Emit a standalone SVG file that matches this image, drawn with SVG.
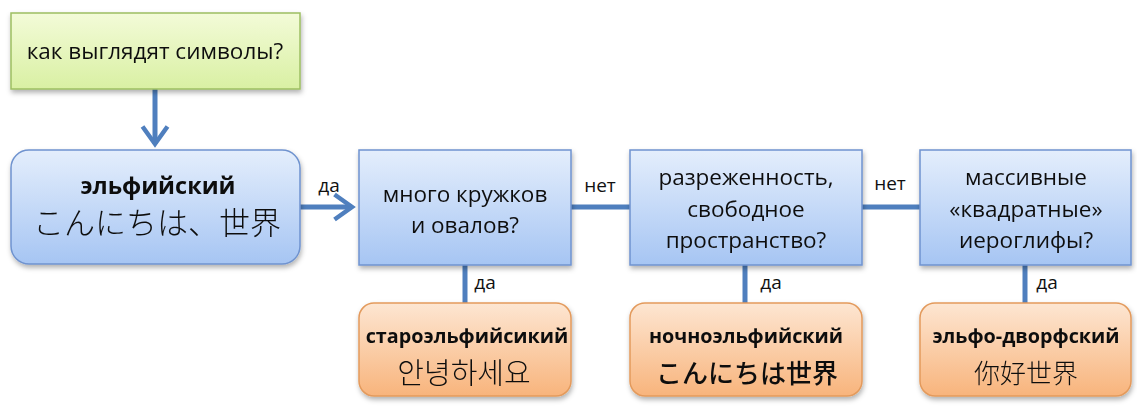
<svg xmlns="http://www.w3.org/2000/svg" width="1137" height="412" viewBox="0 0 1137 412">
<style>
.t{font-family:"Open Sans","Liberation Sans","Noto Sans CJK JP",sans-serif;fill:#111;text-anchor:middle}
.q{font-size:22.5px}
.lbl{font-size:19px}
.b{font-weight:bold;font-size:19.8px}
.cjk{font-family:"Noto Sans CJK JP","Noto Sans CJK KR","Noto Sans CJK SC",sans-serif;font-size:26px;fill:#111;text-anchor:middle}
.green{fill:url(#gG);stroke:#9dbf62;stroke-width:1.5}
.blue{fill:url(#gB);stroke:#6f93cf;stroke-width:1.5}
.orange{fill:url(#gO);stroke:#e39a5c;stroke-width:1.5}
.c{stroke:#4f7fbe;stroke-width:5;fill:none}
</style>
<defs>
<linearGradient id="gG" x1="0" y1="0" x2="0" y2="1"><stop offset="0" stop-color="#f3fbd8"/><stop offset="1" stop-color="#d9f0a3"/></linearGradient>
<linearGradient id="gB" x1="0" y1="0" x2="0" y2="1"><stop offset="0" stop-color="#e4eefc"/><stop offset="1" stop-color="#a6c5f3"/></linearGradient>
<linearGradient id="gO" x1="0" y1="0" x2="0" y2="1"><stop offset="0" stop-color="#fde6d2"/><stop offset="1" stop-color="#f8b47c"/></linearGradient>
<filter id="sh" x="-10%" y="-10%" width="120%" height="130%"><feDropShadow dx="1" dy="3" stdDeviation="2.5" flood-color="#000" flood-opacity="0.3"/></filter>
<marker id="ah" markerWidth="6" markerHeight="6" refX="4" refY="3" orient="auto" markerUnits="strokeWidth"><path d="M0.5,0.5 L4,3 L0.5,5.5" fill="none" stroke="#4f7fbe" stroke-width="0.9"/></marker>
</defs>
<g id="connectors">
<line class="c" x1="155" y1="89" x2="155" y2="144" marker-end="url(#ah)"/>
<line class="c" x1="300" y1="207" x2="352" y2="207" marker-end="url(#ah)"/>
<line class="c" x1="571" y1="207" x2="630" y2="207"/>
<line class="c" x1="862" y1="207" x2="920" y2="207"/>
<line class="c" x1="465" y1="265" x2="465" y2="303"/>
<line class="c" x1="745" y1="265" x2="745" y2="303"/>
<line class="c" x1="1025" y1="265" x2="1025" y2="303"/>
<text class="t lbl" x="329" y="192">да</text>
<text class="t lbl" x="600" y="192">нет</text>
<text class="t lbl" x="890" y="190">нет</text>
<text class="t lbl" x="485" y="289">да</text>
<text class="t lbl" x="771" y="289">да</text>
<text class="t lbl" x="1047" y="289">да</text>
</g>
<g id="start" filter="url(#sh)">
<rect class="green" x="11" y="13" width="289" height="76"/>
<text class="t q" x="155" y="59">как выглядят символы?</text>
</g>
<g id="elvish" filter="url(#sh)">
<rect class="blue" x="11" y="150" width="289" height="114" rx="18"/>
<text class="t b" x="158" y="194" style="font-size:23.5px">эльфийский</text>
<text class="cjk" x="157" y="234" style="font-size:31px;font-family:'Noto Sans CJK JP',serif;font-weight:300">こんにちは、世界</text>
</g>
<g id="q1" filter="url(#sh)">
<rect class="blue" x="359" y="150" width="212" height="115"/>
<text class="t q" x="465" y="202">много кружков</text>
<text class="t q" x="465" y="233">и овалов?</text>
</g>
<g id="q2" filter="url(#sh)">
<rect class="blue" x="630" y="150" width="232" height="115"/>
<text class="t q" x="746" y="185">разреженность,</text>
<text class="t q" x="746" y="217">свободное</text>
<text class="t q" x="746" y="248">пространство?</text>
</g>
<g id="q3" filter="url(#sh)">
<rect class="blue" x="920" y="150" width="211" height="115"/>
<text class="t q" x="1026" y="185">массивные</text>
<text class="t q" x="1026" y="217">«квадратные»</text>
<text class="t q" x="1026" y="248">иероглифы?</text>
</g>
<g id="old-elvish" filter="url(#sh)">
<rect class="orange" x="359" y="303" width="212" height="93" rx="15"/>
<text class="t b" x="467" y="343">староэльфийсикий</text>
<text class="cjk" x="464" y="384" style="font-family:'Noto Sans CJK KR',sans-serif;font-weight:300;font-size:29px">안녕하세요</text>
</g>
<g id="night-elvish" filter="url(#sh)">
<rect class="orange" x="630" y="303" width="232" height="93" rx="15"/>
<text class="t b" x="746" y="343">ночноэльфийский</text>
<text class="cjk" x="747" y="383" style="font-weight:500">こんにちは世界</text>
</g>
<g id="elf-dwarf" filter="url(#sh)">
<rect class="orange" x="920" y="303" width="211" height="93" rx="15"/>
<text class="t b" x="1026" y="343">эльфо-дворфский</text>
<text class="cjk" x="1026" y="383" style="font-family:'Noto Sans CJK SC',sans-serif;font-weight:300">你好世界</text>
</g>
</svg>
